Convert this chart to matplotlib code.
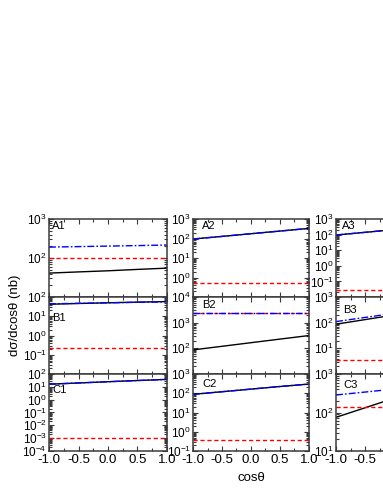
import matplotlib
matplotlib.use("Agg")
import matplotlib.pyplot as plt
from matplotlib.ticker import LogLocator, NullFormatter, MultipleLocator

plt.rcParams['font.family'] = ['Liberation Sans', 'DejaVu Sans']
plt.rcParams['mathtext.fontset'] = 'custom'
plt.rcParams['mathtext.rm'] = 'Liberation Sans'
plt.rcParams['mathtext.it'] = 'Liberation Sans:italic'

# cos(theta) sample points
cos_theta = [-1.0, -0.5, 0.0, 0.5, 1.0]

# panel names, rows A-C, columns 1-3
panel_names = [["A1", "A2", "A3"],
               ["B1", "B2", "B3"],
               ["C1", "C2", "C3"]]

# y ranges (decade exponents) for each panel
y_decades = [[(1, 3), (-1, 3), (-2, 3)],
             [(-2, 2), (1, 4), (0, 3)],
             [(-4, 2), (-1, 3), (1, 3)]]

# solid black curves (nb)
black_vals = [[[41, 44, 47, 51, 55], [94, 128, 176, 241, 330], [94, 140, 209, 313, 468]],
              [[42, 46, 50, 54, 58], [87, 120, 166, 229, 315], [87, 132, 200, 302, 457]],
              [[16, 20, 25, 31, 38], [88, 120, 164, 224, 300], [75, 133, 237, 422, 750]]]

# red dashed curves (nb)
red_vals = [[[100, 100, 100, 100, 100], [0.5, 0.5, 0.5, 0.5, 0.5], [0.028, 0.028, 0.028, 0.028, 0.028]],
            [[0.23, 0.23, 0.23, 0.23, 0.23], [2450, 2450, 2450, 2450, 2450], [3.5, 3.5, 3.5, 3.5, 3.5]],
            [[0.001, 0.001, 0.001, 0.001, 0.001], [0.37, 0.37, 0.37, 0.37, 0.37], [142, 142, 142, 142, 142]]]

# blue dash-dot curves (nb)
blue_vals = [[[190, 196, 202, 208, 215], [94, 128, 176, 241, 330], [94, 140, 209, 313, 468]],
             [[44, 47, 50, 53, 56], [2450, 2450, 2450, 2450, 2450], [110, 160, 232, 338, 490]],
             [[16, 20, 25, 31, 38], [88, 120, 164, 224, 300], [285, 340, 407, 486, 580]]]

xticks = [-1.0, -0.5, 0.0, 0.5, 1.0]
xticklabels = ['-1.0', '-0.5', '0.0', '0.5', '1.0']

fig = plt.figure(figsize=(3.83, 4.95), dpi=100)
W, H = 383.0, 495.0
col_left = [49, 193, 336]
col_width = [118, 116, 117]
row_top = [219, 297, 374]
row_height = [78, 77, 77]

# label offsets (px right, px down) from each panel's top-left corner
label_off = [[(3, 2), (9, 2), (6, 2)],
             [(3, 16), (9, 3), (7, 8)],
             [(3, 11), (9, 5), (7, 6)]]

spine_col = '#3a3a3a'

for r in range(3):
    for c in range(3):
        left = col_left[c] / W
        bottom = (H - row_top[r] - row_height[r]) / H
        ax = fig.add_axes([left, bottom, col_width[c] / W, row_height[r] / H])
        ax.plot(cos_theta, black_vals[r][c], color='black', lw=1.0, ls='-')
        ax.plot(cos_theta, red_vals[r][c], color='red', lw=1.0, ls=(0, (3, 2)))
        ax.plot(cos_theta, blue_vals[r][c], color='blue', lw=1.0, ls=(0, (5, 1.5, 1.2, 1.5)))
        ax.set_yscale('log')
        lo, hi = y_decades[r][c]
        ax.set_ylim(10.0 ** lo, 10.0 ** hi)
        ax.set_xlim(-1.0, 1.0)
        if r < 2:
            # bottom label is covered by the panel below
            exps = list(range(lo + 1, hi + 1))
        else:
            exps = list(range(lo, hi + 1))
        ax.set_yticks([10.0 ** k for k in exps])
        ax.set_yticklabels(['$\\mathdefault{10^{%d}}$' % k for k in exps])
        ax.yaxis.set_minor_locator(LogLocator(base=10, subs=range(2, 10), numticks=20))
        ax.yaxis.set_minor_formatter(NullFormatter())
        ax.set_xticks(xticks)
        ax.xaxis.set_minor_locator(MultipleLocator(0.25))
        if r < 2:
            ax.set_xticklabels([])
        else:
            ax.set_xticklabels(xticklabels)
        ax.tick_params(which='both', direction='in', top=True, right=True,
                       color=spine_col, width=0.8)
        ax.tick_params(which='major', length=3.5)
        ax.tick_params(which='minor', length=2)
        ax.tick_params(axis='y', labelsize=8.5, pad=1.5)
        ax.tick_params(axis='x', labelsize=9.5, pad=2)
        for s in ax.spines.values():
            s.set_color(spine_col)
            s.set_linewidth(1.1)
        dx, dy = label_off[r][c]
        ax.annotate(panel_names[r][c], xy=(0, 1), xycoords='axes fraction',
                    xytext=(dx, -dy), textcoords='offset pixels',
                    fontsize=8, va='top', ha='left')

fig.text(15 / W, 1 - 315 / H, 'dσ/dcosθ (nb)', rotation=90,
         ha='center', va='center', fontsize=9.5)
fig.text(251 / W, 1 - 478 / H, 'cosθ', ha='center', va='center', fontsize=9.5)

fig.savefig('out.png', dpi=100)
